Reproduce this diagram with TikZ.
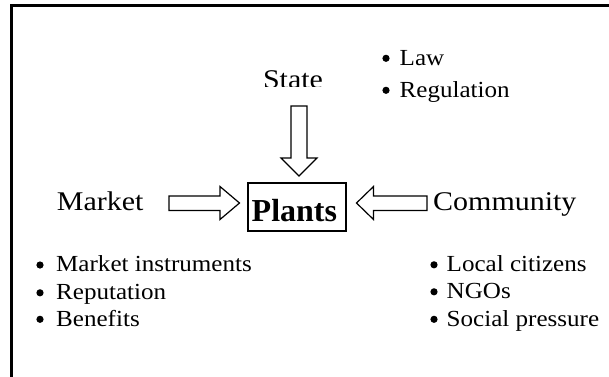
\documentclass[tikz,border=0pt]{standalone}
\usepackage{fontspec}
\setmainfont{Liberation Serif}
\newfontfamily\labfont[FakeStretch=1.11]{Liberation Serif}
\newfontfamily\bulfont[FakeStretch=1.09]{Liberation Serif}
\begin{document}
\begin{tikzpicture}[x=1pt,y=-1pt,
  lab/.style={inner sep=0pt, anchor=base west, font=\labfont\fontsize{27}{27}\selectfont},
  itemtext/.style={inner sep=0pt, anchor=base west, font=\bulfont\fontsize{23}{23}\selectfont},
  dot/.style={circle, fill=black, inner sep=0pt, minimum size=7.2pt},
  blockarrow/.style={draw=black, line width=1.2pt, fill=white, line join=miter},
  frameline/.style={draw=black, line width=3pt, line join=miter},
]
\useasboundingbox (0,0) rectangle (609,376);
\clip (0,0) rectangle (609,376);
\fill[white] (0,0) rectangle (609,376);
% outer frame (continues beyond the picture edges)
\draw[frameline] (11.5,400) -- (11.5,5.3) -- (640,5.3);

% State label (cut at the bottom as in the reference)
\begin{scope}
  \clip (230,40) rectangle (360,86);
  \node[lab, anchor=base] (state) at (293,88) {State};
\end{scope}

% Law / Regulation
\node[dot] (b1) at (386,58.3) {};
\node[itemtext] (law) at (399.5,65) {Law};
\node[dot] (b2) at (386,90.3) {};
\node[itemtext] (reg) at (399.5,97) {Regulation};

% Plants box
\node[draw=black, line width=2pt, minimum width=98pt, minimum height=48pt, inner sep=0pt] (plants) at (296.7,207) {};
\node[inner sep=0pt, anchor=base west, font=\bfseries\fontsize{32}{32}\selectfont] (plantstext) at (251.5,221.7) {Plants};

% Market / Community
\node[lab] (market) at (56.7,210.7) {Market};
\node[lab] (community) at (433,210.5) {Community};

% block arrows
\draw[blockarrow] (291,106) -- (307,106) -- (307,158) -- (317,158) -- (299,176) -- (281,158) -- (291,158) -- cycle;
\draw[blockarrow] (169,196) -- (220,196) -- (220,186.5) -- (239.5,203) -- (220,219.5) -- (220,210.5) -- (169,210.5) -- cycle;
\draw[blockarrow] (427,196) -- (373.5,196) -- (373.5,186.5) -- (356.5,203) -- (373.5,219.5) -- (373.5,210.5) -- (427,210.5) -- cycle;

% left bullet list
\node[dot] (lb1) at (40,265) {};
\node[itemtext] (mi) at (56,271.7) {Market instruments};
\node[dot] (lb2) at (40,292.8) {};
\node[itemtext] (rep) at (56,299.5) {Reputation};
\node[dot] (lb3) at (40,319.3) {};
\node[itemtext] (ben) at (56,326) {Benefits};

% right bullet list
\node[dot] (rb1) at (434,264.8) {};
\node[itemtext] (lc) at (446.5,271.5) {Local citizens};
\node[dot] (rb2) at (434,291.8) {};
\node[itemtext] (ngo) at (446.5,298.5) {NGOs};
\node[dot] (rb3) at (434,319.3) {};
\node[itemtext] (sp) at (446.5,326) {Social pressure};
\end{tikzpicture}
\end{document}
